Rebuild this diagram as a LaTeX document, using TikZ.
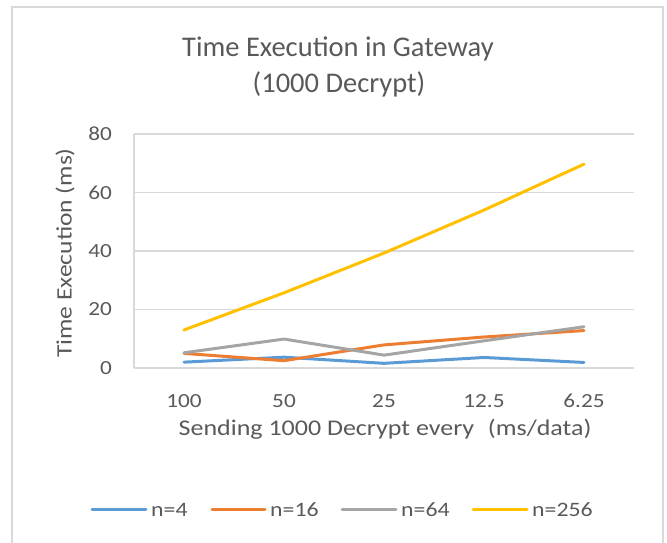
\documentclass[tikz,border=0pt]{standalone}
\usepackage{fontspec}
\setmainfont{Carlito}
\newfontfamily\labfont[FakeStretch=1.16]{Carlito}
\definecolor{txt}{HTML}{595959}
\definecolor{grid}{HTML}{D9D9D9}
\definecolor{sblue}{HTML}{5B9BD5}
\definecolor{sorange}{HTML}{ED7D31}
\definecolor{sgray}{HTML}{A5A5A5}
\definecolor{syellow}{HTML}{FFC000}
\tikzset{
  gridline/.style={draw=grid, line width=1.5pt},
  series/.style={line width=3pt, line cap=round, line join=round},
  ticklab/.style={inner sep=0pt, text=txt, font=\labfont\fontsize{20}{24}\selectfont},
  axistitle/.style={inner sep=0pt, text=txt, font=\labfont\fontsize{22}{26}\selectfont},
  charttitle/.style={inner sep=0pt, text=txt, font=\fontsize{28.5}{34}\selectfont, anchor=base},
  legendlab/.style={inner sep=0pt, text=txt, anchor=base west, font=\labfont\fontsize{20.5}{24}\selectfont},
}
\begin{document}
\begin{tikzpicture}[x=1pt, y=-1pt]
\useasboundingbox (0,0) rectangle (667,542);
% chart frame (bottom edge lies outside the page)
\draw[draw=grid, line width=2pt] (12,560) -- (12,7) -- (663,7) -- (663,560);

% title
\node[charttitle] (t1) at (338,56) {Time Execution in Gateway};
\node[charttitle] (t2) at (339,92) {(1000 Decrypt)};

% plot area: values mapped with origin at y=368, 2.925 units per ms
\begin{scope}[shift={(0,368)}, y=2.925pt]
  \foreach \v in {20,40,60,80} {
    \draw[gridline] (134,\v) -- (634,\v);
  }
  \draw[gridline] (134,0) -- (634,0);
  \draw[gridline] (134,0) -- (134,80);
  \foreach \v in {0,20,40,60,80} {
    \node[ticklab, anchor=east] (y\v) at (112,\v) {\v};
  }
  % series
  \draw[series, sblue]   (184,2.0) -- (284,3.7) -- (384,1.6) -- (484,3.6) -- (584,1.9);
  \draw[series, sorange] (184,5.0) -- (284,2.5) -- (384,7.9) -- (484,10.6) -- (584,12.8);
  \draw[series, sgray]   (184,5.2) -- (284,9.9) -- (384,4.4) -- (484,9.3) -- (584,14.1);
  \draw[series, syellow] (184,13.0) -- (284,25.7) -- (384,39.3) -- (484,54.0) -- (584,69.7);
\end{scope}

% category labels
\foreach \x/\l/\n in {184/100/c1, 284/50/c2, 384/25/c3, 484/12.5/c4, 584/6.25/c5} {
  \node[ticklab, anchor=base] (\n) at (\x,407) {\l};
}

% axis titles
\node[axistitle, anchor=base, font=\labfont\fontsize{22.4}{26}\selectfont] (xt) at (385,435) {Sending 1000 Decrypt every\hspace{0.35em} (ms/data)};
\node[axistitle, rotate=90] (yt) at (65,253) {Time Execution (ms)};

% legend
\coordinate (la1) at (92,509.5);  \coordinate (lb1) at (146,509.5);
\coordinate (la2) at (212,509.5); \coordinate (lb2) at (265,509.5);
\coordinate (la3) at (342,509.5); \coordinate (lb3) at (396,509.5);
\coordinate (la4) at (473,509.5); \coordinate (lb4) at (527,509.5);
\draw[series, sblue]   (la1) -- (lb1);
\draw[series, sorange] (la2) -- (lb2);
\draw[series, sgray]   (la3) -- (lb3);
\draw[series, syellow] (la4) -- (lb4);
\node[legendlab] (l1) at (151,516.5) {n=4};
\node[legendlab] (l2) at (270,516.5) {n=16};
\node[legendlab] (l3) at (401,516.5) {n=64};
\node[legendlab] (l4) at (532,516.5) {n=256};
\end{tikzpicture}
\end{document}
